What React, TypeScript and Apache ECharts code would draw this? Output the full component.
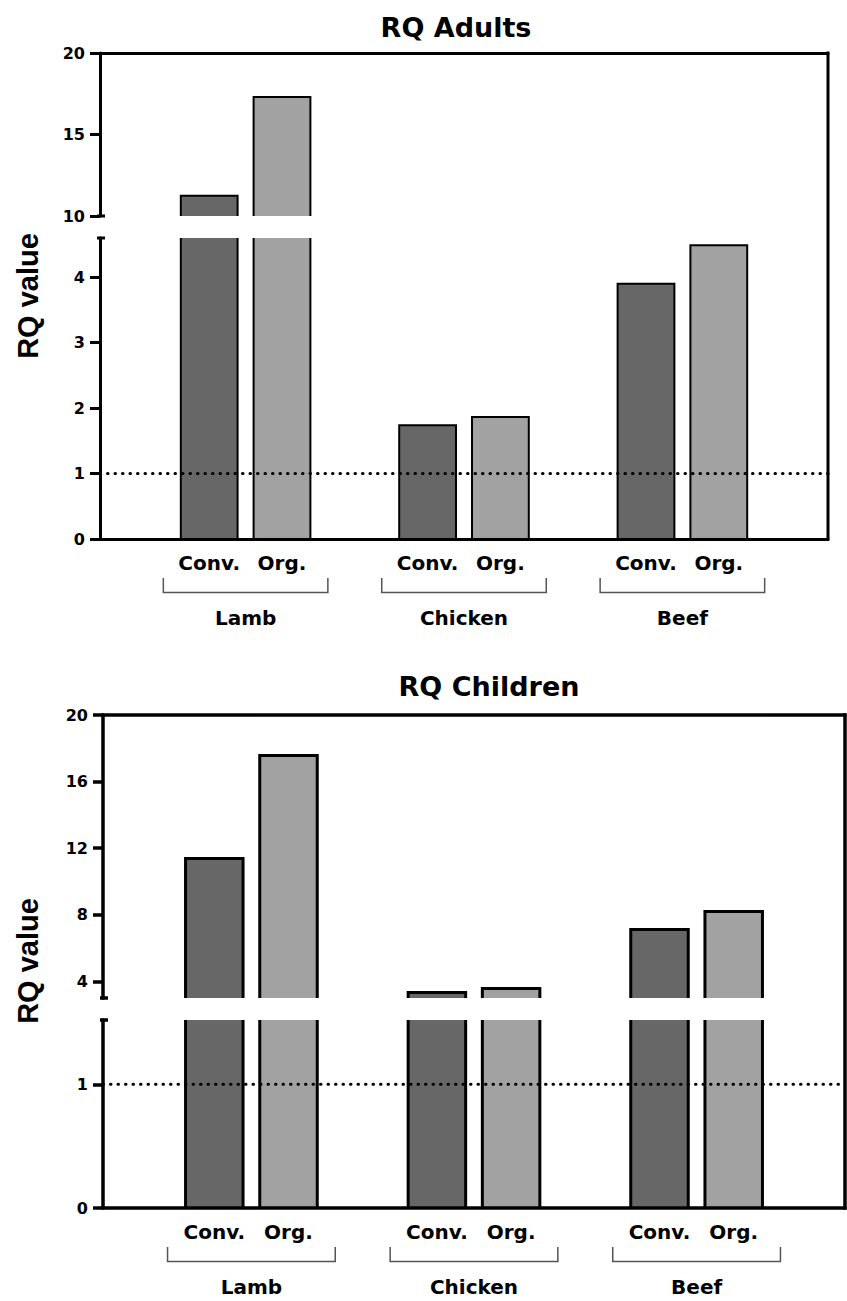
import React, { useEffect, useRef } from "react";
import * as echarts from "echarts";

// ---------- data ----------
const groups = ["Lamb", "Chicken", "Beef"];
const barLabels = ["Conv.", "Org."];
const adultsConv = [11.25, 1.74, 3.9];
const adultsOrg = [17.3, 1.865, 4.49];
const childrenConv = [11.38, 3.33, 7.12];
const childrenOrg = [17.57, 3.57, 8.2];
const adultsUpperTicks = [10, 15, 20];
const adultsLowerTicks = [0, 1, 2, 3, 4];
const childrenUpperTicks = [4, 8, 12, 16, 20];
const childrenLowerTicks = [0, 1];
const threshold = 1;

// slot layout along a 0..10 value x axis: group g -> Conv at 3g+1.5, Org at 3g+2.5
const SLOTS = 10;
const convPos = (g: number) => 3 * g + 1.5;
const orgPos = (g: number) => 3 * g + 2.5;
const groupCenter = (g: number) => 3 * g + 2;

const DARK = "#676767";
const LIGHT = "#a2a2a2";
const FONT = "'DejaVu Sans', 'Liberation Sans', Arial, sans-serif";

const panels = [
  {
    title: "RQ Adults", titleX: 456, titleY: 27, nameY: 296,
    conv: adultsConv, org: adultsOrg,
    left: 100, right: 828, upperTop: 53, upperBottom: 216, lowerTop: 238, lowerBottom: 539,
    upperMin: 10, upperMax: 20, lowerMax: 4.6,
    upperTicks: adultsUpperTicks, lowerTicks: adultsLowerTicks,
    barBorder: 2, axisWidth: 3, barRatio: 0.78,
  },
  {
    title: "RQ Children", titleX: 489, titleY: 686, nameY: 961,
    conv: childrenConv, org: childrenOrg,
    left: 103, right: 845, upperTop: 715, upperBottom: 998, lowerTop: 1020, lowerBottom: 1208,
    upperMin: 3, upperMax: 20, lowerMax: 1.52,
    upperTicks: childrenUpperTicks, lowerTicks: childrenLowerTicks,
    barBorder: 3, axisWidth: 3.5, barRatio: 0.775,
  },
];

const barSlots: number[] = groups.flatMap((_, g) => [convPos(g), orgPos(g)]);
const groupSlots: number[] = groups.map((_, g) => groupCenter(g));

const makeRender = (yMin: number, yMax: number, ratio: number, bw: number) =>
  (params: any, api: any) => {
    const x = api.value(0);
    const v = api.value(1);
    const c = api.value(2);
    if (v <= yMin) return null;
    const top = Math.min(v, yMax);
    const pTop = api.coord([x, top]);
    const pBase = api.coord([x, yMin]);
    const w = api.size([1, 0])[0] * ratio;
    const l = pTop[0] - w / 2;
    const r = pTop[0] + w / 2;
    const children: any[] = [
      {
        type: "rect",
        shape: { x: l, y: pTop[1], width: w, height: pBase[1] - pTop[1] },
        style: { fill: c ? LIGHT : DARK },
      },
    ];
    const stroke = { stroke: "#000", lineWidth: bw, fill: "none" };
    if (v <= yMax) {
      children.push({
        type: "polyline",
        shape: { points: [[l, pBase[1]], [l, pTop[1]], [r, pTop[1]], [r, pBase[1]]] },
        style: { ...stroke, lineJoin: "miter" },
      });
    } else {
      children.push({ type: "line", shape: { x1: l, y1: pTop[1], x2: l, y2: pBase[1] }, style: stroke });
      children.push({ type: "line", shape: { x1: r, y1: pTop[1], x2: r, y2: pBase[1] }, style: stroke });
    }
    return { type: "group", children };
  };

export default function App() {
  const ref = useRef<HTMLDivElement>(null);
  useEffect(() => {
    document.body.style.margin = "0";
    const chart = echarts.init(ref.current!, null, { renderer: "svg", width: 847, height: 1301 });
    const grid: any[] = [];
    const xAxis: any[] = [];
    const yAxis: any[] = [];
    const series: any[] = [];
    const labelStyle = { fontFamily: FONT, fontWeight: "bold", color: "#000" };

    panels.forEach((p, i) => {
      const w = p.right - p.left;
      grid.push({ left: p.left, top: p.upperTop, width: w, height: p.upperBottom - p.upperTop, outerBoundsMode: "none" });
      grid.push({ left: p.left, top: p.lowerTop, width: w, height: p.lowerBottom - p.lowerTop, outerBoundsMode: "none" });
      const axisLine = { show: true, onZero: false, lineStyle: { color: "#000", width: p.axisWidth } };
      xAxis.push({
        type: "value", gridIndex: 2 * i, min: 0, max: SLOTS, position: "top", z: 5,
        axisLine, axisTick: { show: false }, axisLabel: { show: false }, splitLine: { show: false },
      });
      xAxis.push({
        type: "value", gridIndex: 2 * i + 1, min: 0, max: SLOTS, position: "bottom", z: 5,
        axisLine, axisTick: { show: false }, splitLine: { show: false },
        axisLabel: {
          ...labelStyle, fontSize: 20, margin: 14, customValues: barSlots,
          formatter: (v: number) => barLabels[barSlots.indexOf(v) % 2] ?? "",
        },
      });
      xAxis.push({
        type: "value", gridIndex: 2 * i + 1, min: 0, max: SLOTS, position: "bottom",
        axisLine: { show: false }, axisTick: { show: false }, splitLine: { show: false },
        axisLabel: {
          ...labelStyle, fontSize: 20, margin: 69, customValues: groupSlots,
          formatter: (v: number) => groups[groupSlots.indexOf(v)] ?? "",
        },
      });
      const yCommon = (ticks: number[]) => ({
        type: "value", z: 5, axisLine,
        axisTick: { show: true, length: 10, lineStyle: { color: "#000", width: p.axisWidth }, customValues: ticks },
        axisLabel: { ...labelStyle, fontSize: 16, margin: 15, customValues: ticks },
        splitLine: { show: false },
      });
      yAxis.push({ ...yCommon(p.upperTicks), gridIndex: 2 * i, min: p.upperMin, max: p.upperMax });
      yAxis.push({ ...yCommon(p.lowerTicks), gridIndex: 2 * i + 1, min: 0, max: p.lowerMax });

      const data = groups.flatMap((_, g) => [
        [convPos(g), p.conv[g], 0],
        [orgPos(g), p.org[g], 1],
      ]);
      series.push({
        type: "custom", xAxisIndex: 3 * i, yAxisIndex: 2 * i, data, silent: true,
        encode: { x: 0, y: 1 }, renderItem: makeRender(p.upperMin, p.upperMax, p.barRatio, p.barBorder),
      });
      series.push({
        type: "custom", xAxisIndex: 3 * i + 1, yAxisIndex: 2 * i + 1, data, silent: true,
        encode: { x: 0, y: 1 }, renderItem: makeRender(0, p.lowerMax, p.barRatio, p.barBorder),
      });
      series.push({
        type: "line", xAxisIndex: 3 * i + 1, yAxisIndex: 2 * i + 1, z: 10, silent: true,
        data: [[0, threshold], [SLOTS, threshold]], symbol: "none",
        lineStyle: { color: "#000", width: 3, type: [0.5, 7], cap: "round" },
      });
    });

    chart.setOption({ animation: false, backgroundColor: "#fff", grid, xAxis, yAxis, series });

    const graphic: any[] = [];
    panels.forEach((p, i) => {
      const axisY = p.lowerBottom;
      const ls = { stroke: "#000", lineWidth: p.axisWidth };
      [p.upperBottom, p.lowerTop].forEach((y) =>
        graphic.push({ type: "line", z: 20, shape: { x1: p.left - 3, y1: y, x2: p.left + 5, y2: y }, style: ls })
      );
      graphic.push({
        type: "line", z: 20,
        shape: { x1: p.right, y1: p.upperTop - p.axisWidth / 2, x2: p.right, y2: p.lowerBottom + p.axisWidth / 2 },
        style: ls,
      });
      groups.forEach((_, gi) => {
        const c = groupCenter(gi);
        const xl = chart.convertToPixel({ xAxisIndex: 3 * i + 1 } as any, c - 1.13) as number;
        const xr = chart.convertToPixel({ xAxisIndex: 3 * i + 1 } as any, c + 1.13) as number;
        graphic.push({
          type: "polyline", z: 20,
          shape: { points: [[xl, axisY + 39], [xl, axisY + 53.5], [xr, axisY + 53.5], [xr, axisY + 39]] },
          style: { stroke: "#555", lineWidth: 1.5, fill: "none" },
        });
      });
      graphic.push({
        type: "text", z: 20, x: p.titleX, y: p.titleY,
        style: {
          text: p.title, fontFamily: FONT, fontWeight: "bold", fontSize: 27, fill: "#000",
          align: "center", verticalAlign: "middle", textAlign: "center", textVerticalAlign: "middle",
        },
      });
      graphic.push({
        type: "text", z: 20, x: 28, y: p.nameY, rotation: Math.PI / 2,
        style: {
          text: "RQ value", fontFamily: "'Liberation Sans', Arial, sans-serif", fontWeight: "bold", fontSize: 29, fill: "#000",
          align: "center", verticalAlign: "middle", textAlign: "center", textVerticalAlign: "middle",
        },
      });
    });
    chart.setOption({ graphic });

    return () => chart.dispose();
  }, []);
  return <div ref={ref} style={{ position: "absolute", left: 0, top: 0, width: 847, height: 1301 }} />;
}
